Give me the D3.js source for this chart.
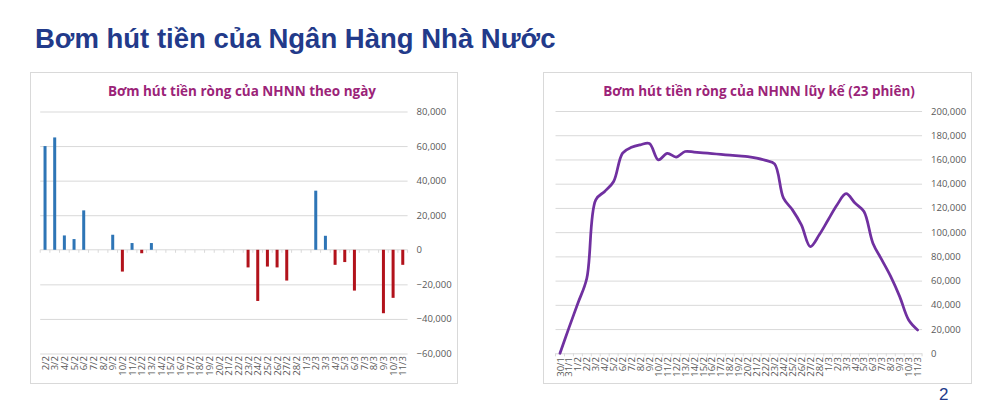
<!DOCTYPE html>
<html><head><meta charset="utf-8">
<script src="https://cdn.jsdelivr.net/npm/d3@7"></script>
<style>
html,body{margin:0;padding:0;background:#fff;}
svg{display:block;}
</style></head>
<body>
<svg id="c" width="993" height="409"></svg>
<script>
const mainTitle = "Bơm hút tiền của Ngân Hàng Nhà Nước";
const leftTitle = "Bơm hút tiền ròng của NHNN theo ngày";
const rightTitle = "Bơm hút tiền ròng của NHNN lũy kế (23 phiên)";
const pageNumber = "2";

const dailyDays = ["2/2","3/2","4/2","5/2","6/2","7/2","8/2","9/2","10/2","11/2","12/2","13/2","14/2","15/2","16/2","17/2","18/2","19/2","20/2","21/2","22/2","23/2","24/2","25/2","26/2","27/2","28/2","1/3","2/3","3/3","4/3","5/3","6/3","7/3","8/3","9/3","10/3","11/3"];
const dailyValues = [60000,65000,8300,6200,22800,0,0,8700,-12600,3900,-2000,3900,0,0,0,0,0,0,0,0,0,-10200,-29600,-9700,-10200,-17800,0,0,34200,8100,-8700,-7100,-23600,0,0,-36700,-27800,-8700];
const dailyTicks = [-60000,-40000,-20000,0,20000,40000,60000,80000];

const cumDays = ["30/1","31/1","1/2","2/2","3/2","4/2","5/2","6/2","7/2","8/2","9/2","10/2","11/2","12/2","13/2","14/2","15/2","16/2","17/2","18/2","19/2","20/2","21/2","22/2","23/2","24/2","25/2","26/2","27/2","28/2","1/3","2/3","3/3","4/3","5/3","6/3","7/3","8/3","9/3","10/3","11/3"];
const cumValues = [0,21000,41300,62000,126700,133600,141800,165300,170000,172100,173200,159700,165000,162000,166600,166100,165500,164800,164200,163500,162900,162300,161100,159200,156400,128000,118400,106000,88100,97800,110200,122600,131700,124000,117000,90900,77100,63300,46800,27500,19300];
const cumTicks = [0,20000,40000,60000,80000,100000,120000,140000,160000,180000,200000];

const svg = d3.select("#c");
const fmt = d3.format(",");
const tickColor = "#595959";
const gridColor = "#d9d9d9";
const uiFont = "'Open Sans', 'Noto Sans', sans-serif";

svg.append("text").attr("x", 35).attr("y", 48)
  .attr("font-family", "'Liberation Sans', Arial, sans-serif")
  .attr("font-weight", "bold").attr("font-size", 27.5).attr("fill", "#223a8a")
  .text(mainTitle);

svg.append("text").attr("x", 939).attr("y", 400)
  .attr("font-family", "'Liberation Sans', Arial, sans-serif")
  .attr("font-size", 17).attr("fill", "#223a8a").text(pageNumber);

// ---------- Left chart ----------
svg.append("rect").attr("x", 30.5).attr("y", 72.5).attr("width", 427).attr("height", 311)
  .attr("fill", "#fff").attr("stroke", gridColor);
svg.append("text").attr("x", 242).attr("y", 96).attr("text-anchor", "middle")
  .attr("font-family", uiFont).attr("font-weight", "bold").attr("font-size", 13.5)
  .attr("fill", "#9b2378").text(leftTitle);

const xL = d3.scaleBand().domain(dailyDays).range([40.2, 407.6]).padding(0);
const yL = d3.scaleLinear().domain([-60000, 80000]).range([353.5, 111.5]);

const gL = svg.append("g");
gL.append("g").attr("transform", "translate(407.6,0)")
  .call(d3.axisRight(yL).tickValues(dailyTicks).tickSize(-(407.6 - 40.2)).tickFormat(fmt).tickPadding(9))
  .call(g => {
    g.select(".domain").remove();
    g.selectAll(".tick line").attr("stroke", d => d === 0 ? "none" : gridColor);
    g.selectAll(".tick text").attr("fill", tickColor).attr("font-family", uiFont).attr("font-size", 9.5);
  });

const zeroY = yL(0);
gL.append("line").attr("x1", 40.2).attr("x2", 407.6).attr("y1", zeroY).attr("y2", zeroY).attr("stroke", gridColor);
gL.selectAll("line.xt").data(d3.range(dailyDays.length + 1)).join("line").attr("class", "xt")
  .attr("x1", i => 40.2 + i * xL.step()).attr("x2", i => 40.2 + i * xL.step())
  .attr("y1", zeroY).attr("y2", zeroY + 3).attr("stroke", gridColor);

const barW = 3;
gL.selectAll("rect.bar").data(dailyDays.map((d, i) => ({d, v: dailyValues[i]})).filter(o => o.v !== 0))
  .join("rect").attr("class", "bar")
  .attr("x", o => xL(o.d) + xL.bandwidth() / 2 - barW / 2)
  .attr("width", barW)
  .attr("y", o => yL(Math.max(0, o.v)))
  .attr("height", o => Math.abs(yL(o.v) - yL(0)))
  .attr("fill", o => o.v >= 0 ? "#2e75b6" : "#b2121b");

gL.selectAll("text.xl").data(dailyDays).join("text").attr("class", "xl")
  .attr("transform", d => `translate(${xL(d) + xL.bandwidth() / 2 + 3.5},${356}) rotate(-90)`)
  .attr("text-anchor", "end").attr("font-family", uiFont).attr("font-size", 9.5)
  .attr("fill", tickColor).text(d => d);

// ---------- Right chart ----------
svg.append("rect").attr("x", 543.5).attr("y", 72.5).attr("width", 428).attr("height", 311)
  .attr("fill", "#fff").attr("stroke", gridColor);
svg.append("text").attr("x", 759).attr("y", 96).attr("text-anchor", "middle")
  .attr("font-family", uiFont).attr("font-weight", "bold").attr("font-size", 13.5)
  .attr("fill", "#9b2378").text(rightTitle);

const xR = d3.scalePoint().domain(cumDays).range([560, 917.6]);
const stepR = xR.step();
const yR = d3.scaleLinear().domain([0, 200000]).range([353.3, 111]);

const gR = svg.append("g");
gR.append("g").attr("transform", `translate(${917.6 + stepR / 2},0)`)
  .call(d3.axisRight(yR).tickValues(cumTicks).tickSize(-(917.6 - 560 + stepR)).tickFormat(fmt).tickPadding(9))
  .call(g => {
    g.select(".domain").remove();
    g.selectAll(".tick line").attr("stroke", gridColor);
    g.selectAll(".tick text").attr("fill", tickColor).attr("font-family", uiFont).attr("font-size", 9.5);
  });
gR.selectAll("line.xt").data(d3.range(cumDays.length + 1)).join("line").attr("class", "xt")
  .attr("x1", i => 560 - stepR / 2 + i * stepR).attr("x2", i => 560 - stepR / 2 + i * stepR)
  .attr("y1", yR(0)).attr("y2", yR(0) + 3).attr("stroke", gridColor);

gR.append("path").datum(cumValues)
  .attr("fill", "none").attr("stroke", "#7030a0").attr("stroke-width", 2.75)
  .attr("stroke-linejoin", "round").attr("stroke-linecap", "round")
  .attr("d", d3.line().x((v, i) => xR(cumDays[i])).y(v => yR(v)).curve(d3.curveCatmullRom.alpha(0.5)));

gR.selectAll("text.xl").data(cumDays).join("text").attr("class", "xl")
  .attr("transform", d => `translate(${xR(d) + 3.5},${357}) rotate(-90)`)
  .attr("text-anchor", "end").attr("font-family", uiFont).attr("font-size", 9.5)
  .attr("fill", tickColor).text(d => d);
</script>
</body></html>
